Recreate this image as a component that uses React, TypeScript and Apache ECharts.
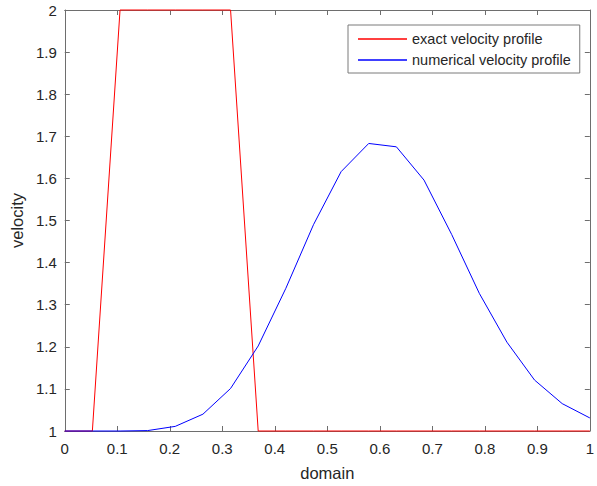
import React, { useEffect, useRef } from "react";
import * as echarts from "echarts";

const xs = [0, 0.0526, 0.1053, 0.1579, 0.2105, 0.2632, 0.3158, 0.3684, 0.4211, 0.4737, 0.5263, 0.5789, 0.6316, 0.6842, 0.7368, 0.7895, 0.8421, 0.8947, 0.9474, 1];
const exactVelocity = [1, 1, 2, 2, 2, 2, 2, 1, 1, 1, 1, 1, 1, 1, 1, 1, 1, 1, 1, 1];
const numericalVelocity = [1, 1, 1, 1.001, 1.011, 1.04, 1.101, 1.202, 1.339, 1.49, 1.616, 1.683, 1.675, 1.596, 1.467, 1.327, 1.211, 1.121, 1.065, 1.031];
const seriesNames = ["exact velocity profile", "numerical velocity profile"];

const FONT = "'Liberation Sans', Arial, Helvetica, sans-serif";
const AXIS_COLOR = "#6e6e6e";
const TEXT_COLOR = "#262626";

export default function App() {
  const ref = useRef<HTMLDivElement>(null);
  useEffect(() => {
    if (!ref.current) return;
    const chart = echarts.init(ref.current, undefined, { renderer: "svg" });
    const axisLine = { show: true, onZero: false, lineStyle: { color: AXIS_COLOR, width: 1 } };
    const tick = { show: true, inside: true, length: 5, lineStyle: { color: AXIS_COLOR, width: 1 } };
    chart.setOption({
      animation: false,
      backgroundColor: "#ffffff",
      textStyle: { fontFamily: FONT },
      grid: { left: 62, top: 10, width: 534, height: 422, containLabel: false },
      legend: {
        left: 348,
        top: 25,
        orient: "vertical",
        padding: [6, 9, 5, 10],
        itemGap: 5,
        itemWidth: 49,
        itemHeight: 1.5,
        itemTextGap: 5,
        icon: "rect",
        borderColor: "#7a7a7a",
        borderWidth: 1,
        backgroundColor: "#ffffff",
        borderRadius: 0,
        textStyle: { fontSize: 14.5, color: TEXT_COLOR, fontFamily: FONT, lineHeight: 16 },
        data: seriesNames,
      },
      xAxis: [
        {
          type: "value",
          min: 0,
          max: 1,
          interval: 0.1,
          name: "domain",
          nameLocation: "middle",
          nameGap: 33,
          nameTextStyle: { fontSize: 16.5, color: TEXT_COLOR, fontFamily: FONT },
          axisLine,
          axisTick: tick,
          axisLabel: { fontSize: 15, color: TEXT_COLOR, margin: 10, fontFamily: FONT },
          splitLine: { show: false },
        },
        {
          type: "value",
          position: "top",
          min: 0,
          max: 1,
          interval: 0.1,
          axisLine,
          axisTick: tick,
          axisLabel: { show: false },
          splitLine: { show: false },
        },
      ],
      yAxis: [
        {
          type: "value",
          min: 1,
          max: 2,
          interval: 0.1,
          name: "velocity",
          nameLocation: "middle",
          nameGap: 35,
          nameRotate: 90,
          nameTextStyle: { fontSize: 16.5, color: TEXT_COLOR, fontFamily: FONT },
          axisLine,
          axisTick: tick,
          axisLabel: { fontSize: 15, color: TEXT_COLOR, margin: 8, fontFamily: FONT },
          splitLine: { show: false },
        },
        {
          type: "value",
          position: "right",
          min: 1,
          max: 2,
          interval: 0.1,
          axisLine,
          axisTick: tick,
          axisLabel: { show: false },
          splitLine: { show: false },
        },
      ],
      series: [
        {
          name: seriesNames[0],
          type: "line",
          data: xs.map((x, i) => [x, exactVelocity[i]]),
          showSymbol: false,
          symbol: "none",
          clip: false,
          itemStyle: { color: "#ff0000" },
          lineStyle: { color: "#ff0000", width: 1 },
        },
        {
          name: seriesNames[1],
          type: "line",
          data: xs.map((x, i) => [x, numericalVelocity[i]]),
          showSymbol: false,
          symbol: "none",
          clip: false,
          itemStyle: { color: "#0000ff" },
          lineStyle: { color: "#0000ff", width: 1 },
        },
      ],
    });
    return () => chart.dispose();
  }, []);
  return (
    <div
      ref={ref}
      style={{ position: "fixed", left: 0, top: 0, width: 597, height: 486, background: "#fff" }}
    />
  );
}
